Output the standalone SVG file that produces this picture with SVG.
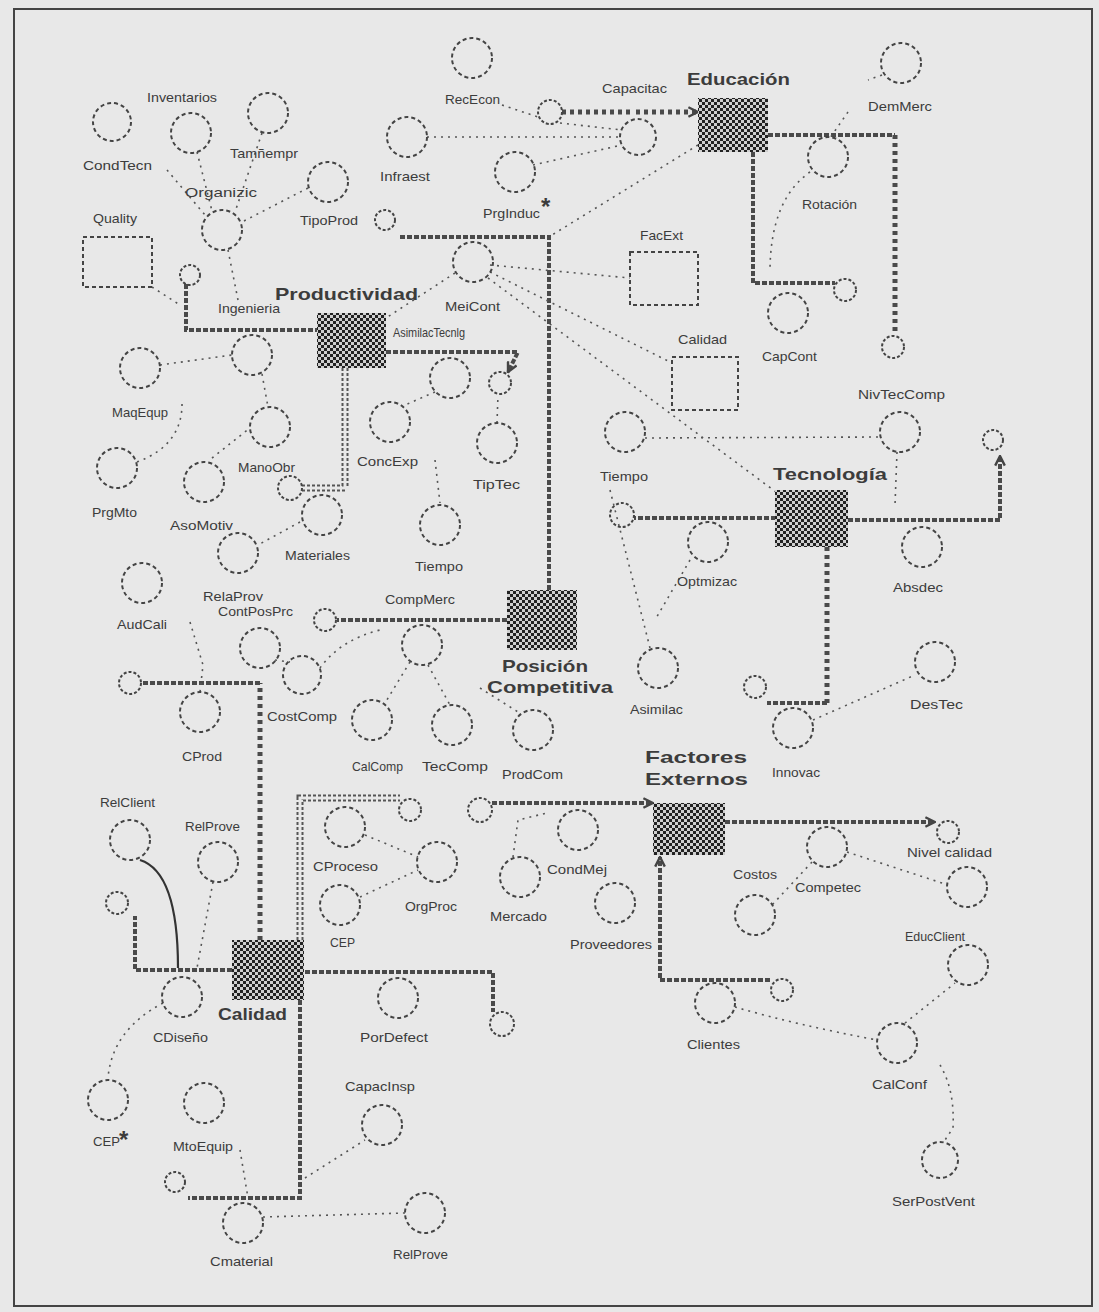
<svg xmlns="http://www.w3.org/2000/svg" width="1099" height="1312" viewBox="0 0 1099 1312">
<style>
.c{fill:none;stroke:#444;stroke-width:2;stroke-dasharray:4 3}
.sm{fill:none;stroke:#444;stroke-width:2;stroke-dasharray:3 2}
.lb{font-family:"Liberation Sans",Arial,sans-serif;font-size:13px;fill:#3c3c3c}
.bl{font-family:"Liberation Sans",Arial,sans-serif;font-size:17px;font-weight:bold;fill:#3c3c3c}
.st{font-family:"Liberation Sans",Arial,sans-serif;font-size:24px;font-weight:bold;fill:#3c3c3c}
.th{fill:none;stroke:#4a4a4a;stroke-width:4;stroke-dasharray:5 2}
.hd{fill:none;stroke:#4a4a4a;stroke-width:5;stroke-dasharray:4 4}
.db1{fill:none;stroke:#555;stroke-width:7;stroke-dasharray:3 2}
.db2{fill:none;stroke:#e8e8e8;stroke-width:3}
.dt{fill:none;stroke:#555;stroke-width:1.6;stroke-dasharray:2 5}
.sol{fill:none;stroke:#333;stroke-width:2.2}
.sq{fill:url(#chk)}
</style>
<defs>
<pattern id="chk" width="6" height="6" patternUnits="userSpaceOnUse">
<rect width="6" height="6" fill="#cfcfcf"/>
<rect width="3" height="3" fill="#222"/>
<rect x="3" y="3" width="3" height="3" fill="#222"/>
</pattern>
<marker id="arr" viewBox="0 0 10 10" refX="9" refY="5" markerWidth="12" markerHeight="12" markerUnits="userSpaceOnUse" orient="auto">
<path d="M1,1 L9,5 L1,9" fill="none" stroke="#444" stroke-width="2"/>
</marker>
</defs>
<rect x="0" y="0" width="1099" height="1312" fill="#e8e8e8"/>
<rect x="14" y="9" width="1078" height="1297" fill="none" stroke="#444" stroke-width="2"/>

<g id="connectors">
<!-- thick flows -->
<path class="th" d="M186,284 L186,330 L317,330"/>
<path class="hd" d="M562,112 L632,112"/>
<path class="hd" d="M636,112 L698,112" marker-end="url(#arr)"/>
<path class="th" d="M768,135 L895,135"/>
<path class="hd" d="M895,135 L895,335"/>
<path class="th" d="M753,152 L753,283 L835,283"/>
<path class="th" d="M549,590 L549,237 L398,237"/>
<path class="th" d="M386,352 L518,352 L508,372" marker-end="url(#arr)"/>
<path class="db1" d="M345,368 L345,488 L302,488"/>
<path class="db2" d="M345,368 L345,488 L302,488"/>
<path class="th" d="M507,620 L337,620"/>
<path class="th" d="M848,520 L1000,520 L1000,456" marker-end="url(#arr)"/>
<path class="th" d="M776,518 L634,518"/>
<path class="hd" d="M827,547 L827,703"/>
<path class="th" d="M827,703 L767,703"/>
<path class="hd" d="M260,940 L260,683"/>
<path class="th" d="M260,683 L142,683"/>
<path class="th" d="M232,970 L135,970 L135,916"/>
<path class="db1" d="M300,940 L300,798 L400,798"/>
<path class="db2" d="M300,940 L300,798 L400,798"/>
<path class="th" d="M305,972 L493,972 L493,1012"/>
<path class="th" d="M300,1000 L300,1198 L188,1198"/>
<path class="th" d="M492,803 L653,803" marker-end="url(#arr)"/>
<path class="th" d="M725,822 L935,822" marker-end="url(#arr)"/>
<path class="th" d="M770,980 L660,980 L660,857" marker-end="url(#arr)"/>
<!-- source/sink clouds -->
<circle class="sm" cx="190" cy="275" r="10"/>
<circle class="sm" cx="550" cy="112" r="12"/>
<circle class="sm" cx="385" cy="220" r="10"/>
<circle class="sm" cx="893" cy="347" r="11"/>
<circle class="sm" cx="845" cy="290" r="11"/>
<circle class="sm" cx="500" cy="383" r="11"/>
<circle class="sm" cx="290" cy="488" r="12"/>
<circle class="sm" cx="325" cy="620" r="11"/>
<circle class="sm" cx="993" cy="440" r="10"/>
<circle class="sm" cx="622" cy="515" r="12"/>
<circle class="sm" cx="755" cy="687" r="11"/>
<circle class="sm" cx="130" cy="683" r="11"/>
<circle class="sm" cx="117" cy="903" r="11"/>
<circle class="sm" cx="410" cy="810" r="11"/>
<circle class="sm" cx="502" cy="1024" r="12"/>
<circle class="sm" cx="175" cy="1182" r="10"/>
<circle class="sm" cx="480" cy="810" r="12"/>
<circle class="sm" cx="948" cy="832" r="11"/>
<circle class="sm" cx="782" cy="990" r="11"/>
<!-- information links -->
<path class="dt" d="M197,152 L212,211"/>
<path class="dt" d="M167,170 L205,215"/>
<path class="dt" d="M262,133 L235,212"/>
<path class="dt" d="M308,188 L242,222"/>
<path class="dt" d="M228,250 L238,300"/>
<path class="dt" d="M152,287 L180,305"/>
<path class="dt" d="M160,365 L232,355"/>
<path class="dt" d="M262,374 L268,407"/>
<path class="dt" d="M137,462 Q183,445 182,402"/>
<path class="dt" d="M212,458 L250,428"/>
<path class="dt" d="M300,522 L258,545"/>
<path class="dt" d="M190,622 L203,665 L200,692"/>
<path class="dt" d="M275,660 L290,662"/>
<path class="dt" d="M410,662 L385,703"/>
<path class="dt" d="M428,665 L450,705"/>
<path class="dt" d="M480,688 L518,712"/>
<path class="dt" d="M320,668 Q340,640 380,630"/>
<path class="sol" d="M140,860 Q178,872 178,968"/>
<path class="dt" d="M213,882 L197,968"/>
<path class="dt" d="M365,835 L418,857"/>
<path class="dt" d="M360,897 L418,870"/>
<path class="dt" d="M163,1003 Q112,1030 108,1078"/>
<path class="dt" d="M240,1150 L248,1198"/>
<path class="dt" d="M305,1178 L365,1140"/>
<path class="dt" d="M263,1217 L405,1213"/>
<path class="dt" d="M427,137 L620,137"/>
<path class="dt" d="M502,105 L538,117"/>
<path class="dt" d="M560,123 L622,130"/>
<path class="dt" d="M533,165 L622,145"/>
<path class="dt" d="M698,145 L552,235"/>
<path class="dt" d="M490,265 L630,278"/>
<path class="dt" d="M490,272 L672,363"/>
<path class="dt" d="M488,278 L776,492"/>
<path class="dt" d="M455,273 L386,318"/>
<path class="dt" d="M882,75 L868,80"/>
<path class="dt" d="M848,112 L830,138"/>
<path class="dt" d="M810,172 Q770,200 770,272"/>
<path class="dt" d="M645,438 L880,437"/>
<path class="dt" d="M897,452 L895,505"/>
<path class="dt" d="M610,490 L650,648"/>
<path class="dt" d="M690,560 L655,620"/>
<path class="dt" d="M813,720 L915,675"/>
<path class="dt" d="M513,857 L518,820 L547,813"/>
<path class="dt" d="M812,862 L772,905"/>
<path class="dt" d="M847,852 L948,885"/>
<path class="dt" d="M735,1007 Q797,1025 877,1040"/>
<path class="dt" d="M905,1023 L955,983"/>
<path class="dt" d="M940,1065 Q955,1090 953,1128 L945,1140"/>
<path class="dt" d="M435,460 L440,503"/>
<path class="dt" d="M435,392 L405,405"/>
<path class="dt" d="M497,423 L498,395"/>
</g>

<g id="Educacion"><rect class="sq" x="698" y="98" width="70" height="54"/><text class="bl" x="687" y="85" textLength="103" lengthAdjust="spacingAndGlyphs">Educación</text></g>
<g id="Productividad"><rect class="sq" x="317" y="313" width="69" height="55"/><text class="bl" x="275" y="300" textLength="143" lengthAdjust="spacingAndGlyphs">Productividad</text></g>
<g id="PosicionCompetitiva"><rect class="sq" x="507" y="590" width="70" height="60"/><text class="bl" x="502" y="672" textLength="86" lengthAdjust="spacingAndGlyphs">Posición</text><text class="bl" x="487" y="693" textLength="126" lengthAdjust="spacingAndGlyphs">Competitiva</text></g>
<g id="Tecnologia"><rect class="sq" x="775" y="490" width="73" height="57"/><text class="bl" x="773" y="480" textLength="114" lengthAdjust="spacingAndGlyphs">Tecnología</text></g>
<g id="FactoresExternos"><rect class="sq" x="653" y="803" width="72" height="52"/><text class="bl" x="645" y="763" textLength="102" lengthAdjust="spacingAndGlyphs">Factores</text><text class="bl" x="645" y="785" textLength="103" lengthAdjust="spacingAndGlyphs">Externos</text></g>
<g id="Calidad"><rect class="sq" x="232" y="940" width="72" height="60"/><text class="bl" x="218" y="1020" textLength="69" lengthAdjust="spacingAndGlyphs">Calidad</text></g>

<g id="CondTecn"><circle class="c" cx="112" cy="122" r="19"/><text class="lb" x="83" y="170" textLength="69" lengthAdjust="spacingAndGlyphs">CondTecn</text></g>
<g id="Inventarios"><circle class="c" cx="191" cy="133" r="20"/><text class="lb" x="147" y="102" textLength="70" lengthAdjust="spacingAndGlyphs">Inventarios</text></g>
<g id="TamEmpr"><circle class="c" cx="268" cy="113" r="20"/><text class="lb" x="230" y="158" textLength="68" lengthAdjust="spacingAndGlyphs">Tamñempr</text></g>
<g id="TipoProd"><circle class="c" cx="328" cy="182" r="20"/><text class="lb" x="300" y="225" textLength="58" lengthAdjust="spacingAndGlyphs">TipoProd</text></g>
<g id="Organizic"><circle class="c" cx="222" cy="230" r="20"/><text class="lb" x="185" y="197" textLength="72" lengthAdjust="spacingAndGlyphs">Organizic</text></g>
<g id="Quality"><rect class="c" x="83" y="237" width="69" height="50"/><text class="lb" x="93" y="223" textLength="44" lengthAdjust="spacingAndGlyphs">Quality</text></g>
<g id="Ingenieria"><circle class="c" cx="252" cy="355" r="20"/><text class="lb" x="218" y="313" textLength="62" lengthAdjust="spacingAndGlyphs">Ingenieria</text></g>
<g id="MaqEquip"><circle class="c" cx="140" cy="368" r="20"/><text class="lb" x="112" y="417" textLength="56" lengthAdjust="spacingAndGlyphs">MaqEqup</text></g>
<g id="ManoObr"><circle class="c" cx="270" cy="427" r="20"/><text class="lb" x="238" y="472" textLength="57" lengthAdjust="spacingAndGlyphs">ManoObr</text></g>
<g id="PrgMto"><circle class="c" cx="117" cy="468" r="20"/><text class="lb" x="92" y="517" textLength="45" lengthAdjust="spacingAndGlyphs">PrgMto</text></g>
<g id="AsoMotiv"><circle class="c" cx="204" cy="482" r="20"/><text class="lb" x="170" y="530" textLength="63" lengthAdjust="spacingAndGlyphs">AsoMotiv</text></g>
<g id="Materiales"><circle class="c" cx="322" cy="515" r="20"/><text class="lb" x="285" y="560" textLength="65" lengthAdjust="spacingAndGlyphs">Materiales</text></g>
<g id="RelaProv"><circle class="c" cx="238" cy="553" r="20"/><text class="lb" x="203" y="601" textLength="60" lengthAdjust="spacingAndGlyphs">RelaProv</text></g>
<g id="AudCali"><circle class="c" cx="142" cy="583" r="20"/><text class="lb" x="117" y="629" textLength="50" lengthAdjust="spacingAndGlyphs">AudCali</text></g>
<g id="ContPosPrc"><circle class="c" cx="260" cy="648" r="20"/><text class="lb" x="218" y="616" textLength="75" lengthAdjust="spacingAndGlyphs">ContPosPrc</text></g>
<g id="CostComp"><circle class="c" cx="302" cy="675" r="19"/><text class="lb" x="267" y="721" textLength="70" lengthAdjust="spacingAndGlyphs">CostComp</text></g>
<g id="CompMerc"><circle class="c" cx="422" cy="645" r="20"/><text class="lb" x="385" y="604" textLength="70" lengthAdjust="spacingAndGlyphs">CompMerc</text></g>
<g id="CProd"><circle class="c" cx="200" cy="712" r="20"/><text class="lb" x="182" y="761" textLength="40" lengthAdjust="spacingAndGlyphs">CProd</text></g>
<g id="CalComp"><circle class="c" cx="372" cy="720" r="20"/><text class="lb" x="352" y="771" textLength="51" lengthAdjust="spacingAndGlyphs">CalComp</text></g>
<g id="TecComp"><circle class="c" cx="452" cy="725" r="20"/><text class="lb" x="422" y="771" textLength="66" lengthAdjust="spacingAndGlyphs">TecComp</text></g>
<g id="ProdCom"><circle class="c" cx="533" cy="730" r="20"/><text class="lb" x="502" y="779" textLength="61" lengthAdjust="spacingAndGlyphs">ProdCom</text></g>
<g id="RelClient"><circle class="c" cx="130" cy="840" r="20"/><text class="lb" x="100" y="807" textLength="55" lengthAdjust="spacingAndGlyphs">RelClient</text></g>
<g id="RelProve1"><circle class="c" cx="218" cy="862" r="20"/><text class="lb" x="185" y="831" textLength="55" lengthAdjust="spacingAndGlyphs">RelProve</text></g>
<g id="CProceso"><circle class="c" cx="345" cy="827" r="20"/><text class="lb" x="313" y="871" textLength="65" lengthAdjust="spacingAndGlyphs">CProceso</text></g>
<g id="CEP1"><circle class="c" cx="340" cy="905" r="20"/><text class="lb" x="330" y="947" textLength="25" lengthAdjust="spacingAndGlyphs">CEP</text></g>
<g id="OrgProc"><circle class="c" cx="437" cy="862" r="20"/><text class="lb" x="405" y="911" textLength="52" lengthAdjust="spacingAndGlyphs">OrgProc</text></g>
<g id="CDiseno"><circle class="c" cx="182" cy="997" r="20"/><text class="lb" x="153" y="1042" textLength="55" lengthAdjust="spacingAndGlyphs">CDiseño</text></g>
<g id="PorDefect"><circle class="c" cx="398" cy="998" r="20"/><text class="lb" x="360" y="1042" textLength="68" lengthAdjust="spacingAndGlyphs">PorDefect</text></g>
<g id="CapacInsp"><circle class="c" cx="382" cy="1125" r="20"/><text class="lb" x="345" y="1091" textLength="70" lengthAdjust="spacingAndGlyphs">CapacInsp</text></g>
<g id="CEP2"><circle class="c" cx="108" cy="1100" r="20"/><text class="lb" x="93" y="1146" textLength="27" lengthAdjust="spacingAndGlyphs">CEP</text><text class="st" x="119" y="1148">*</text></g>
<g id="MtoEquip"><circle class="c" cx="204" cy="1103" r="20"/><text class="lb" x="173" y="1151" textLength="60" lengthAdjust="spacingAndGlyphs">MtoEquip</text></g>
<g id="Cmaterial"><circle class="c" cx="243" cy="1223" r="20"/><text class="lb" x="210" y="1266" textLength="63" lengthAdjust="spacingAndGlyphs">Cmaterial</text></g>
<g id="RelProve2"><circle class="c" cx="425" cy="1213" r="20"/><text class="lb" x="393" y="1259" textLength="55" lengthAdjust="spacingAndGlyphs">RelProve</text></g>
<g id="RecEcon"><circle class="c" cx="472" cy="58" r="20"/><text class="lb" x="445" y="104" textLength="55" lengthAdjust="spacingAndGlyphs">RecEcon</text></g>
<g id="Capacitac"><circle class="c" cx="638" cy="137" r="18"/><text class="lb" x="602" y="93" textLength="65" lengthAdjust="spacingAndGlyphs">Capacitac</text></g>
<g id="Infraest"><circle class="c" cx="407" cy="137" r="20"/><text class="lb" x="380" y="181" textLength="50" lengthAdjust="spacingAndGlyphs">Infraest</text></g>
<g id="PrgInduc"><circle class="c" cx="515" cy="172" r="20"/><text class="lb" x="483" y="218" textLength="57" lengthAdjust="spacingAndGlyphs">PrgInduc</text><text class="st" x="541" y="215">*</text></g>
<g id="MeiCont"><circle class="c" cx="473" cy="262" r="20"/><text class="lb" x="445" y="311" textLength="55" lengthAdjust="spacingAndGlyphs">MeiCont</text></g>
<g id="FacExt"><rect class="c" x="630" y="252" width="68" height="53"/><text class="lb" x="640" y="240" textLength="43" lengthAdjust="spacingAndGlyphs">FacExt</text></g>
<g id="CalidadRect"><rect class="c" x="672" y="357" width="66" height="53"/><text class="lb" x="678" y="344" textLength="49" lengthAdjust="spacingAndGlyphs">Calidad</text></g>
<g id="DemMerc"><circle class="c" cx="901" cy="63" r="20"/><text class="lb" x="868" y="111" textLength="64" lengthAdjust="spacingAndGlyphs">DemMerc</text></g>
<g id="Rotacion"><circle class="c" cx="828" cy="157" r="20"/><text class="lb" x="802" y="209" textLength="55" lengthAdjust="spacingAndGlyphs">Rotación</text></g>
<g id="CapCont"><circle class="c" cx="788" cy="313" r="20"/><text class="lb" x="762" y="361" textLength="55" lengthAdjust="spacingAndGlyphs">CapCont</text></g>
<g id="NivTecComp"><circle class="c" cx="900" cy="432" r="20"/><text class="lb" x="858" y="399" textLength="87" lengthAdjust="spacingAndGlyphs">NivTecComp</text></g>
<g id="Absdec"><circle class="c" cx="922" cy="547" r="20"/><text class="lb" x="893" y="592" textLength="50" lengthAdjust="spacingAndGlyphs">Absdec</text></g>
<g id="AsimilacTecnlg"><circle class="c" cx="450" cy="378" r="20"/><text class="lb" x="393" y="337" textLength="72" lengthAdjust="spacingAndGlyphs">AsimilacTecnlg</text></g>
<g id="ConcExp"><circle class="c" cx="390" cy="422" r="20"/><text class="lb" x="357" y="466" textLength="61" lengthAdjust="spacingAndGlyphs">ConcExp</text></g>
<g id="TipTec"><circle class="c" cx="497" cy="443" r="20"/><text class="lb" x="473" y="489" textLength="47" lengthAdjust="spacingAndGlyphs">TipTec</text></g>
<g id="Tiempo1"><circle class="c" cx="440" cy="525" r="20"/><text class="lb" x="415" y="571" textLength="48" lengthAdjust="spacingAndGlyphs">Tiempo</text></g>
<g id="Tiempo2"><circle class="c" cx="625" cy="432" r="20"/><text class="lb" x="600" y="481" textLength="48" lengthAdjust="spacingAndGlyphs">Tiempo</text></g>
<g id="Optmizac"><circle class="c" cx="708" cy="542" r="20"/><text class="lb" x="677" y="586" textLength="60" lengthAdjust="spacingAndGlyphs">Optmizac</text></g>
<g id="Asimilac"><circle class="c" cx="658" cy="668" r="20"/><text class="lb" x="630" y="714" textLength="53" lengthAdjust="spacingAndGlyphs">Asimilac</text></g>
<g id="DesTec"><circle class="c" cx="935" cy="662" r="20"/><text class="lb" x="910" y="709" textLength="53" lengthAdjust="spacingAndGlyphs">DesTec</text></g>
<g id="Innovac"><circle class="c" cx="793" cy="728" r="20"/><text class="lb" x="772" y="777" textLength="48" lengthAdjust="spacingAndGlyphs">Innovac</text></g>
<g id="CondMej"><circle class="c" cx="578" cy="830" r="20"/><text class="lb" x="547" y="874" textLength="60" lengthAdjust="spacingAndGlyphs">CondMej</text></g>
<g id="Mercado"><circle class="c" cx="520" cy="877" r="20"/><text class="lb" x="490" y="921" textLength="57" lengthAdjust="spacingAndGlyphs">Mercado</text></g>
<g id="Proveedores"><circle class="c" cx="615" cy="903" r="20"/><text class="lb" x="570" y="949" textLength="82" lengthAdjust="spacingAndGlyphs">Proveedores</text></g>
<g id="Costos"><circle class="c" cx="755" cy="915" r="20"/><text class="lb" x="733" y="879" textLength="44" lengthAdjust="spacingAndGlyphs">Costos</text></g>
<g id="Competec"><circle class="c" cx="827" cy="847" r="20"/><text class="lb" x="795" y="892" textLength="66" lengthAdjust="spacingAndGlyphs">Competec</text></g>
<g id="NivelCalidad"><circle class="c" cx="967" cy="887" r="20"/><text class="lb" x="907" y="857" textLength="85" lengthAdjust="spacingAndGlyphs">Nivel calidad</text></g>
<g id="EducClient"><circle class="c" cx="968" cy="965" r="20"/><text class="lb" x="905" y="941" textLength="60" lengthAdjust="spacingAndGlyphs">EducClient</text></g>
<g id="Clientes"><circle class="c" cx="715" cy="1003" r="20"/><text class="lb" x="687" y="1049" textLength="53" lengthAdjust="spacingAndGlyphs">Clientes</text></g>
<g id="CalConf"><circle class="c" cx="897" cy="1043" r="20"/><text class="lb" x="872" y="1089" textLength="55" lengthAdjust="spacingAndGlyphs">CalConf</text></g>
<g id="SerPostVent"><circle class="c" cx="940" cy="1160" r="18"/><text class="lb" x="892" y="1206" textLength="83" lengthAdjust="spacingAndGlyphs">SerPostVent</text></g>
</svg>
